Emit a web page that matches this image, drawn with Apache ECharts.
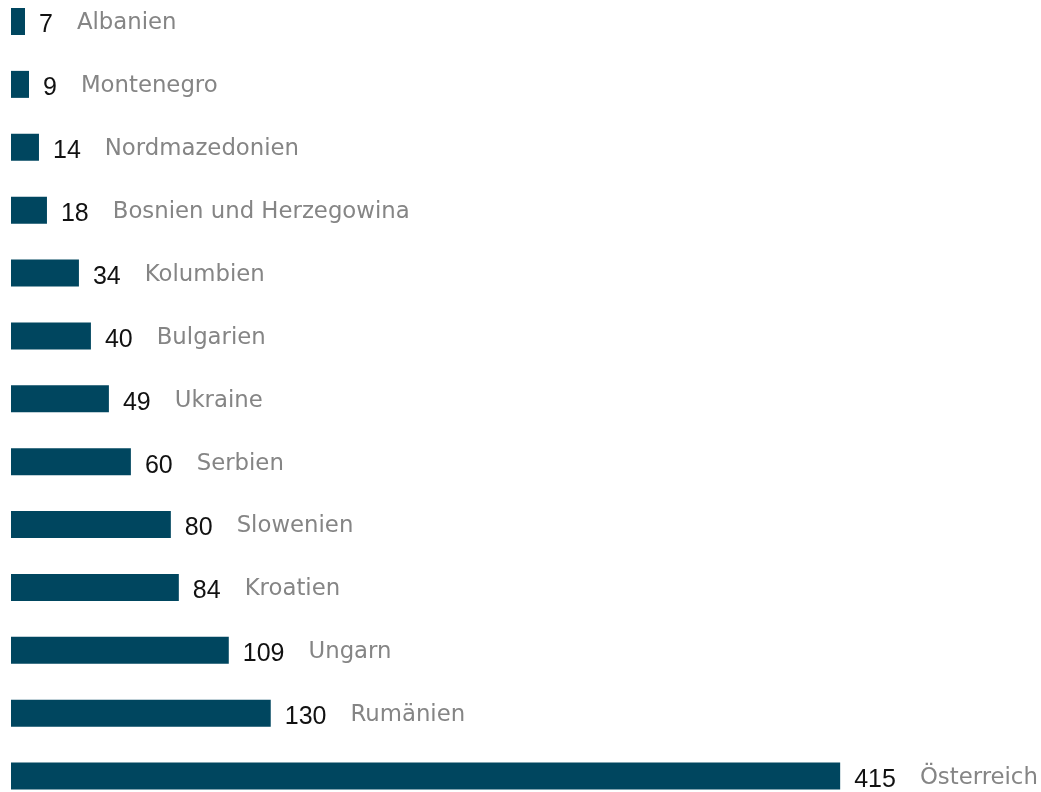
<!DOCTYPE html>
<html>
<head>
<meta charset="utf-8">
<script src="https://cdn.jsdelivr.net/npm/echarts@6/dist/echarts.min.js"></script>
<style>
  html, body { margin: 0; padding: 0; background: #ffffff; }
  #chart { width: 1041px; height: 792px; }
</style>
</head>
<body>
<div id="chart"></div>
<script>
// Countries, top to bottom
const countries = [
  'Albanien', 'Montenegro', 'Nordmazedonien', 'Bosnien und Herzegowina',
  'Kolumbien', 'Bulgarien', 'Ukraine', 'Serbien', 'Slowenien',
  'Kroatien', 'Ungarn', 'Rumänien', 'Österreich'
];
// Value per country
const values = [7, 9, 14, 18, 34, 40, 49, 60, 80, 84, 109, 130, 415];

const chart = echarts.init(document.getElementById('chart'), null, { renderer: 'canvas' });

chart.setOption({
  animation: false,
  backgroundColor: '#ffffff',
  // first and last category sit on the grid's top and bottom edges
  grid: { left: 11, top: 21.5, width: 999, height: 754.5, containLabel: false },
  xAxis: {
    type: 'value',
    min: 0,
    max: 500,
    show: false
  },
  yAxis: {
    type: 'category',
    data: countries,
    inverse: true,
    boundaryGap: false,
    show: false
  },
  series: [{
    type: 'bar',
    data: values,
    barWidth: 27,
    clip: false,
    itemStyle: { color: '#00465f' },
    label: {
      show: true,
      position: 'right',
      distance: 14,
      offset: [0, 4],
      formatter: (p) => '{v|' + p.value + '}{n|' + countries[p.dataIndex] + '}',
      rich: {
        v: {
          fontFamily: '"Liberation Sans", Arial, sans-serif',
          fontSize: 25,
          lineHeight: 28,
          color: '#111111',
          padding: [0, 24, 0, 0]
        },
        n: {
          fontFamily: '"DejaVu Sans", sans-serif',
          fontSize: 22.8,
          lineHeight: 28,
          color: '#858585',
          padding: [0, 0, 4, 0]
        }
      }
    }
  }]
});
</script>
</body>
</html>
